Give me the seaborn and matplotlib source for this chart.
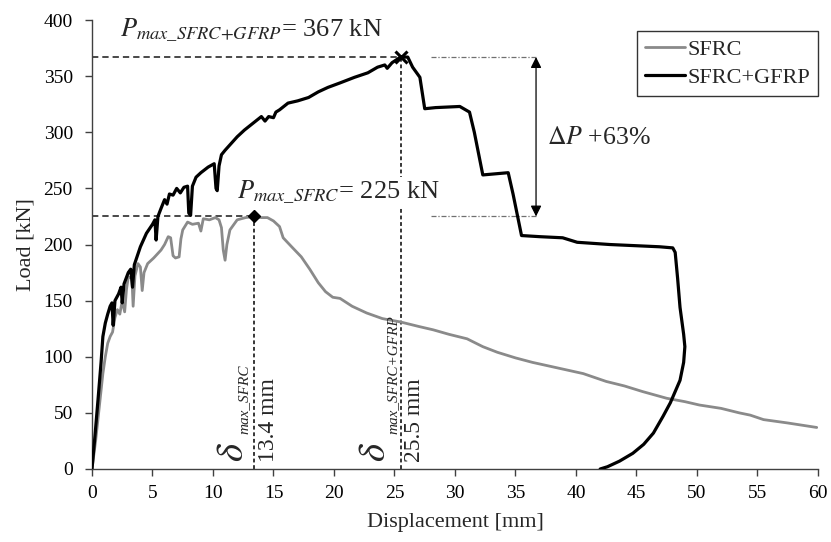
import matplotlib
matplotlib.use("Agg")
import matplotlib.pyplot as plt
import seaborn as sns
import pandas as pd

# ---------------- data ----------------
gfrp_x = [0, 0.25, 0.5, 0.75, 0.9, 1.1, 1.3, 1.5, 1.65, 1.75, 1.9, 2.2, 2.4, 2.5, 2.65,
          3.0, 3.2, 3.35, 3.5, 4.0, 4.5, 5.0, 5.2, 5.3, 5.45, 5.7, 6.0, 6.2, 6.4, 6.7,
          7.0, 7.3, 7.6, 7.9, 8.0, 8.15, 8.3, 8.6, 9.0, 9.6, 10.1, 10.25, 10.35, 10.5,
          10.7, 11.0, 11.5, 12.0, 12.6, 13.3, 14.0, 14.3, 14.6, 15.0, 15.2, 15.5, 16.2,
          17.0, 17.9, 18.7, 19.5, 20.5, 21.7, 22.8, 23.6, 24.2, 24.4, 24.8, 25.5, 26.1,
          26.5, 27.1, 27.5, 28.4, 30.4, 31.2, 31.6, 32.3, 34.4, 34.8, 35.5, 37.0, 38.9,
          40.1, 42.8, 46.9, 48.0, 48.2, 48.4, 48.6, 48.9, 49.0, 48.9, 48.6, 47.8, 47.2,
          46.4, 45.6, 44.7, 43.6, 42.6, 42.0]
gfrp_y = [0, 30, 62, 95, 118, 130, 138, 145, 148, 128, 150, 156, 162, 148, 165,
          175, 178, 162, 182, 198, 210, 218, 222, 204, 225, 232, 240, 236, 245, 244,
          250, 246, 251, 252, 228, 226, 252, 260, 264, 269, 272, 250, 248, 270,
          280, 284, 290, 296, 302, 308, 314, 310, 314, 313, 318, 320, 326,
          328, 331, 336, 340, 344, 349, 353, 358, 360, 357, 362, 367, 367,
          358, 349, 321, 322, 323, 318, 300, 262, 264, 245, 208, 207, 206,
          202, 200, 198, 197, 193, 170, 144, 120, 109, 95, 79, 59, 47,
          32, 22, 14, 7, 2, 0]

sfrc_x = [0, 0.3, 0.6, 0.9, 1.1, 1.3, 1.5, 1.7, 1.9, 2.1, 2.3, 2.5, 2.7, 2.85, 3.0,
          3.3, 3.4, 3.55, 3.8, 4.0, 4.15, 4.3, 4.6, 5.1, 5.7, 6.0, 6.3, 6.5, 6.7, 6.9,
          7.2, 7.35, 7.5, 7.9, 8.3, 8.8, 9.0, 9.2, 9.7, 10.2, 10.5, 10.7, 10.85, 11.0,
          11.15, 11.4, 12.0, 12.7, 13.4, 14.0, 14.5, 15.0, 15.5, 15.8, 16.5, 17.3, 18.0,
          18.7, 19.3, 19.9, 20.5, 21.5, 22.7, 24.0, 25.5, 27.0, 28.2, 29.5, 31.0, 32.3,
          33.5, 35.0, 36.4, 38.5, 40.6, 42.5, 44.0, 45.5, 47.5, 49.0, 50.2, 52.0, 53.5,
          54.4, 55.5, 57.5, 59.9]
sfrc_y = [0, 25, 55, 85, 100, 112, 118, 122, 135, 142, 138, 150, 140, 160, 171,
          170, 145, 172, 183, 180, 159, 175, 183, 188, 195, 200, 207, 206, 190, 188,
          189, 205, 213, 220, 218, 219, 212, 223, 222, 224, 222, 215, 195, 186,
          200, 213, 222, 224, 225, 224, 224, 221, 216, 206, 198, 189, 178,
          166, 158, 153, 152, 145, 139, 134, 131, 127, 124, 120, 116, 109,
          104, 99, 95, 90, 85, 78, 74, 69, 63, 60, 57, 54, 50,
          48, 44, 41, 37]

series_names = ["SFRC", "SFRC+GFRP"]
peak_disp = [13.4, 25.5]
peak_load = [225, 367]
x_ticks = list(range(0, 61, 5))
y_ticks = list(range(0, 401, 50))

# ---------------- style ----------------
sns.set_style("ticks")
plt.rcParams["font.family"] = ["Liberation Serif", "DejaVu Serif"]
plt.rcParams["mathtext.fontset"] = "stix"

fig = plt.figure(figsize=(8.31, 5.42), dpi=100)
ax = fig.add_axes([0.1107, 0.1347, 0.8736, 0.8283])

gray = "#8a8a8a"
df_s = pd.DataFrame({"x": sfrc_x, "y": sfrc_y})
df_g = pd.DataFrame({"x": gfrp_x, "y": gfrp_y})
sns.lineplot(data=df_s, x="x", y="y", sort=False, estimator=None, color=gray,
             linewidth=2.0, ax=ax, label=series_names[0], zorder=3)
sns.lineplot(data=df_g, x="x", y="y", sort=False, estimator=None, color="black",
             linewidth=2.3, ax=ax, label=series_names[1], zorder=4)

# reference dashed lines
dcol = "#3a3a3a"
for xd, yd in zip(peak_disp, peak_load):
    ax.plot([0, xd], [yd, yd], color=dcol, lw=1.3, dashes=(3.5, 2.2), zorder=2)
    ax.plot([xd, xd], [0, yd], color="black", lw=1.1, dashes=(2.5, 1.8), zorder=2)

# markers
ax.plot(peak_disp[0], peak_load[0], marker="D", color="black", ms=6.5, zorder=6)
ax.plot(peak_disp[1], peak_load[1], marker="x", color="black", ms=9, mew=2.2, zorder=6)

# delta P dash-dot guides and double arrow
for yd in peak_load:
    ax.plot([28.0, 36.7], [yd, yd], color="#707070", lw=0.9,
            dashes=(4, 1.5, 1, 1.5), zorder=2)
ax.annotate("", xy=(36.7, peak_load[0]), xytext=(36.7, peak_load[1]),
            arrowprops=dict(arrowstyle="<|-|>", color="black", lw=0.9,
                            mutation_scale=16, shrinkA=0, shrinkB=0))
ax.text(37.6, 290, r"$\Delta P$ +63%", fontsize=18.5, ha="left", va="baseline")

# peak load texts
ax.text(2.3, 385, r"$P_{max\_SFRC{+}GFRP}$= 367 kN", fontsize=19,
        ha="left", va="baseline", zorder=7)
ax.text(12.0, 241, r"$P_{max\_SFRC}$= 225 kN", fontsize=19, ha="left",
        va="baseline", zorder=7,
        bbox=dict(facecolor="white", edgecolor="none", pad=1.5))

# displacement texts (rotated): large delta + small italic subscript + value
for xc_d, xc_s, sub, xv, val in [(11.69, 12.6, "max_SFRC", 13.75, "13.4 mm"),
                                 (23.43, 24.85, "max_SFRC+GFRP", 25.75, "25.5 mm")]:
    ax.text(xc_d, 6.2, r"$\delta$", fontsize=28, rotation=90,
            ha="center", va="bottom", zorder=7)
    ax.text(xc_s, 31, sub, fontsize=11, style="italic", rotation=90,
            ha="center", va="bottom", zorder=7)
    ax.text(xv, 6, val, fontsize=17, rotation=90, ha="left", va="bottom", zorder=7)

# axes
ax.set_xlim(0, 60)
ax.set_ylim(0, 400)
ax.set_xticks(x_ticks)
ax.set_yticks(y_ticks)
ax.tick_params(axis="both", direction="out", length=4.8, width=1, colors="#404040",
               labelsize=14, labelcolor="black")
ax.tick_params(axis="x", pad=7)
ax.tick_params(axis="y", pad=9)
for s in ["top", "right"]:
    ax.spines[s].set_visible(False)
for s in ["left", "bottom"]:
    ax.spines[s].set_color("#404040")
    ax.spines[s].set_linewidth(1.0)
ax.set_xlabel("Displacement [mm]", fontsize=16, labelpad=8)
ax.set_ylabel("Load [kN]", fontsize=16, labelpad=6)

leg = ax.legend(loc="upper right", bbox_to_anchor=(1.0, 0.975), fontsize=16,
                frameon=True, fancybox=False, handlelength=1.8, handletextpad=0.1,
                borderpad=0.35, labelspacing=0.35, borderaxespad=0)
leg.get_frame().set_edgecolor("black")
leg.get_frame().set_linewidth(1.0)

fig.savefig("out.png", dpi=100)
